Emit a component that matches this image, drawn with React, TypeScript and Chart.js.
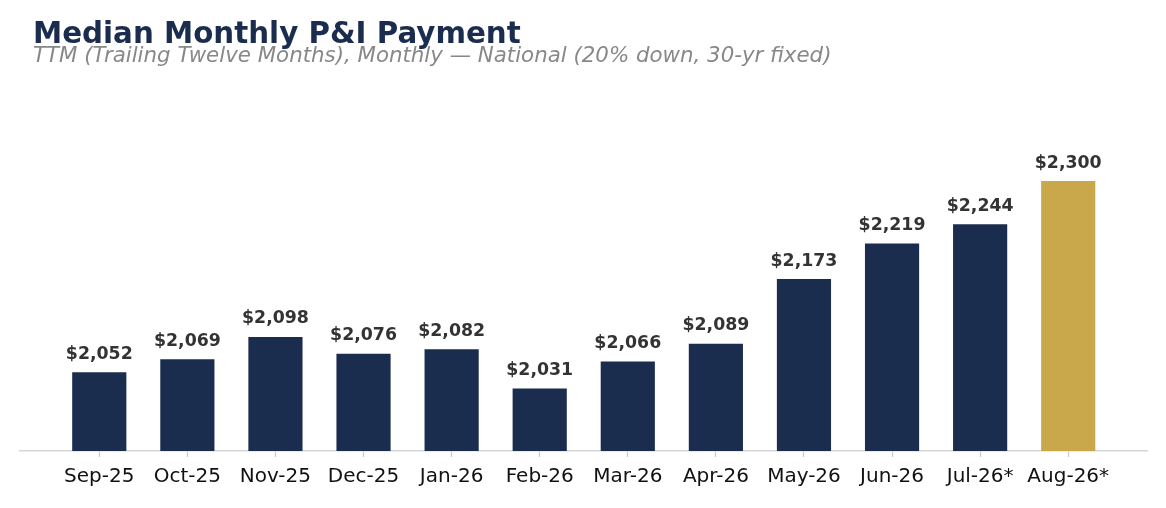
import React, { useEffect, useRef } from "react";
import { Chart, registerables } from "chart.js";

Chart.register(...registerables);

const categories = [
  "Sep-25", "Oct-25", "Nov-25", "Dec-25", "Jan-26", "Feb-26",
  "Mar-26", "Apr-26", "May-26", "Jun-26", "Jul-26*", "Aug-26*",
];
const payments = [2052, 2069, 2098, 2076, 2082, 2031, 2066, 2089, 2173, 2219, 2244, 2300];
const yMin = 1950;
const yMax = 2400;
const titleText = "Median Monthly P&I Payment";
const subtitleText = "TTM (Trailing Twelve Months), Monthly \u2014 National (20% down, 30-yr fixed)";

const NAVY = "#1b2d4f";
const GOLD = "#c9a84c";
const FONT = "'DejaVu Sans', sans-serif";

export default function App() {
  const canvasRef = useRef<HTMLCanvasElement | null>(null);

  useEffect(() => {
    if (!canvasRef.current) return;
    const barColors = payments.map((_, i) => (i === payments.length - 1 ? GOLD : NAVY));

    const textPlugin = {
      id: "texts",
      afterDatasetsDraw(chart: any) {
        const ctx = chart.ctx;
        const meta = chart.getDatasetMeta(0);
        ctx.save();
        ctx.font = `bold 17.33px ${FONT}`;
        ctx.fillStyle = "#333333";
        ctx.textAlign = "center";
        ctx.textBaseline = "alphabetic";
        meta.data.forEach((bar: any, i: number) => {
          ctx.fillText("$" + payments[i].toLocaleString("en-US"), bar.x, bar.y - 13.5);
        });
        ctx.restore();
      },
      afterDraw(chart: any) {
        const ctx = chart.ctx;
        ctx.save();
        ctx.textAlign = "left";
        ctx.textBaseline = "alphabetic";
        ctx.font = `bold 29.33px ${FONT}`;
        ctx.fillStyle = NAVY;
        ctx.fillText(titleText, 33, 43);
        ctx.font = `italic 21.33px ${FONT}`;
        ctx.fillStyle = "#888888";
        ctx.fillText(subtitleText, 33, 61.5);
        ctx.restore();
      },
    };

    const chart = new Chart(canvasRef.current, {
      type: "bar",
      data: {
        datasets: [
          {
            data: payments.map((v, i) => ({ x: i, y: v })),
            backgroundColor: barColors,
            borderWidth: 0,
            barPercentage: 0.615,
            categoryPercentage: 1,
          },
        ],
      },
      options: {
        animation: false,
        responsive: false,
        layout: { padding: { top: 104, left: 20, right: 18.5, bottom: 0 } },
        plugins: {
          legend: { display: false },
          tooltip: { enabled: false },
          title: { display: false },
        },
        scales: {
          x: {
            type: "linear",
            min: -0.9,
            max: 11.9,
            offset: false,
            afterBuildTicks: (scale: any) => {
              scale.ticks = categories.map((_, i) => ({ value: i }));
            },
            afterFit: (scale: any) => {
              scale.height = 57;
            },
            grid: {
              display: true,
              offset: false,
              drawOnChartArea: false,
              drawTicks: true,
              tickLength: 6,
              tickColor: "#cccccc",
              tickWidth: 1.3,
            },
            border: { display: true, color: "#d6d6d6", width: 1.5 },
            ticks: {
              autoSkip: false,
              maxRotation: 0,
              padding: 8,
              color: "#111111",
              font: { family: FONT, size: 20 },
              callback: (v: any) => categories[Math.round(Number(v))] ?? "",
            },
          },
          y: {
            display: false,
            min: yMin,
            max: yMax,
          },
        },
      },
      plugins: [textPlugin],
    } as any);

    return () => chart.destroy();
  }, []);

  return (
    <div style={{ position: "absolute", left: 0, top: 0, width: 1166, height: 508, background: "#ffffff" }}>
      <canvas ref={canvasRef} width={1166} height={508} />
    </div>
  );
}
